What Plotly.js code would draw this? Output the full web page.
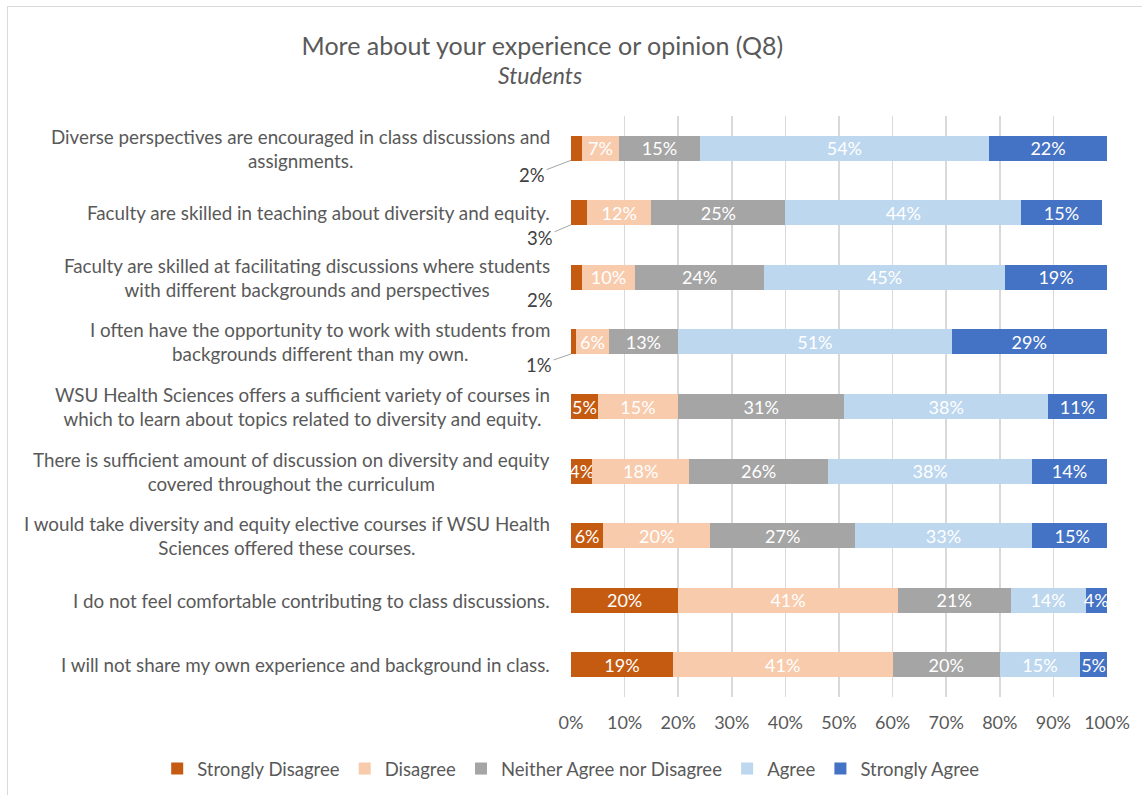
<!DOCTYPE html>
<html>
<head>
<meta charset="utf-8">
<script src="https://cdn.plot.ly/plotly-3.0.1.min.js"></script>
<style>
  html, body { margin: 0; padding: 0; background: #fff; overflow: hidden; }
  #chart { position: absolute; left: 7px; top: 6px; width: 1145px; height: 800px; border: 1px solid #d9d9d9; }
</style>
</head>
<body>
<div id="chart"></div>
<script>
const categories = [
  "Diverse perspectives are encouraged in class discussions and<br>assignments.",
  "Faculty are skilled in teaching about diversity and equity.",
  "Faculty are skilled at facilitating discussions where students<br>with different backgrounds and perspectives",
  "I often have the opportunity to work with students from<br>backgrounds different than my own.",
  "WSU Health Sciences offers a sufficient variety of courses in<br>which to learn about topics related to diversity and equity.",
  "There is sufficient amount of discussion on diversity and equity<br>covered throughout the curriculum",
  "I would take diversity and equity elective courses if WSU Health<br>Sciences offered these courses.",
  "I do not feel comfortable contributing to class discussions.",
  "I will not share my own experience and background in class."
];
const seriesNames = ["Strongly Disagree", "Disagree", "Neither Agree nor Disagree", "Agree", "Strongly Agree"];
const stronglyDisagree = [2, 3, 2, 1, 5, 4, 6, 20, 19];
const disagree         = [7, 12, 10, 6, 15, 18, 20, 41, 41];
const neither          = [15, 25, 24, 13, 31, 26, 27, 21, 20];
const agree            = [54, 44, 45, 51, 38, 38, 33, 14, 15];
const stronglyAgree    = [22, 15, 19, 29, 11, 14, 15, 4, 5];
const tickValues = [0, 10, 20, 30, 40, 50, 60, 70, 80, 90, 100];
const tickLabels = ["0%", "10%", "20%", "30%", "40%", "50%", "60%", "70%", "80%", "90%", "100%"];
const titleText = "More about your experience or opinion (Q8)";
const subtitleText = "Students";

const colors = ["#C55A11", "#F8CBAD", "#A5A5A5", "#BDD7EE", "#4472C4"];
const FONT = "Lato, 'Liberation Sans', sans-serif";
const allSeries = [stronglyDisagree, disagree, neither, agree, stronglyAgree];
const OUTSIDE_LIMIT = 4;

const traces = allSeries.map((vals, i) => ({
  type: "bar",
  orientation: "h",
  name: seriesNames[i],
  y: categories,
  x: vals,
  marker: { color: colors[i], line: { width: 0 } },
  text: vals.map(v => (i === 0 && v < OUTSIDE_LIMIT) ? "" : v + "%"),
  textposition: "inside",
  insidetextanchor: "middle",
  textangle: 0,
  constraintext: "none",
  textfont: { family: FONT, size: 18, color: "#ffffff" },
  hoverinfo: "skip"
}));

const annotations = [];
// category labels (centered multi-line, right anchored)
categories.forEach(c => {
  annotations.push({
    x: 0, xref: "x", y: c, yref: "y",
    xanchor: "right", yanchor: "middle", xshift: -19,
    text: c, align: "center", showarrow: false,
    font: { family: FONT, size: 18.8, color: "#595959" }
  });
});
// small values placed outside the bar, with leader lines
const leaderOffsets = { 0: [-39, 15], 1: [-31, 13], 3: [-32, 11] };
stronglyDisagree.forEach((v, i) => {
  if (v >= OUTSIDE_LIMIT) return;
  const off = leaderOffsets[i];
  if (off) {
    annotations.push({
      x: 0, xref: "x", y: categories[i], yref: "y", yshift: -12,
      text: v + "%", showarrow: true, arrowhead: 0, arrowwidth: 1, arrowcolor: "#a6a6a6",
      ax: off[0], ay: off[1], standoff: 0,
      font: { family: FONT, size: 18.5, color: "#404040" }
    });
  } else {
    annotations.push({
      x: 0, xref: "x", y: categories[i], yref: "y",
      xshift: -31, yshift: -23, showarrow: false,
      text: v + "%", font: { family: FONT, size: 18.5, color: "#404040" }
    });
  }
});
annotations.push({
  x: -0.0578, xref: "paper", y: 1.0, yref: "paper", yshift: 41,
  xanchor: "center", yanchor: "middle", showarrow: false,
  text: "<i>" + subtitleText + "</i>",
  font: { family: FONT, size: 23, color: "#595959" }
});

const layout = {
  width: 1145, height: 800,
  margin: { l: 563, r: 46, t: 109, b: 110, autoexpand: false },
  paper_bgcolor: "#ffffff", plot_bgcolor: "#ffffff",
  font: { family: FONT, color: "#595959" },
  title: {
    text: titleText, xref: "container", x: 0.4667, xanchor: "center",
    yref: "container", y: 0.951, yanchor: "middle",
    font: { family: FONT, size: 25, color: "#595959" }
  },
  barmode: "stack",
  bargap: 0.613,
  showlegend: true,
  legend: {
    orientation: "h", xref: "paper", x: -0.772, xanchor: "left",
    yref: "paper", y: -0.124, yanchor: "middle",
    font: { family: FONT, size: 18.5, color: "#595959" },
    traceorder: "normal", itemclick: false, itemdoubleclick: false
  },
  xaxis: {
    range: [0, 100], tickvals: tickValues, ticktext: tickLabels,
    showgrid: true, gridcolor: "#d9d9d9", gridwidth: 1.5,
    zeroline: false, showline: false, ticks: "",
    ticklabelstandoff: 13,
    tickfont: { family: FONT, size: 18, color: "#595959" },
    fixedrange: true
  },
  yaxis: {
    type: "category", range: [categories.length - 0.5, -0.5], showticklabels: false,
    showgrid: false, zeroline: false, showline: false, ticks: "",
    fixedrange: true
  },
  annotations: annotations,
  hovermode: false
};

Plotly.newPlot("chart", traces, layout, { displayModeBar: false, staticPlot: true });
</script>
</body>
</html>
